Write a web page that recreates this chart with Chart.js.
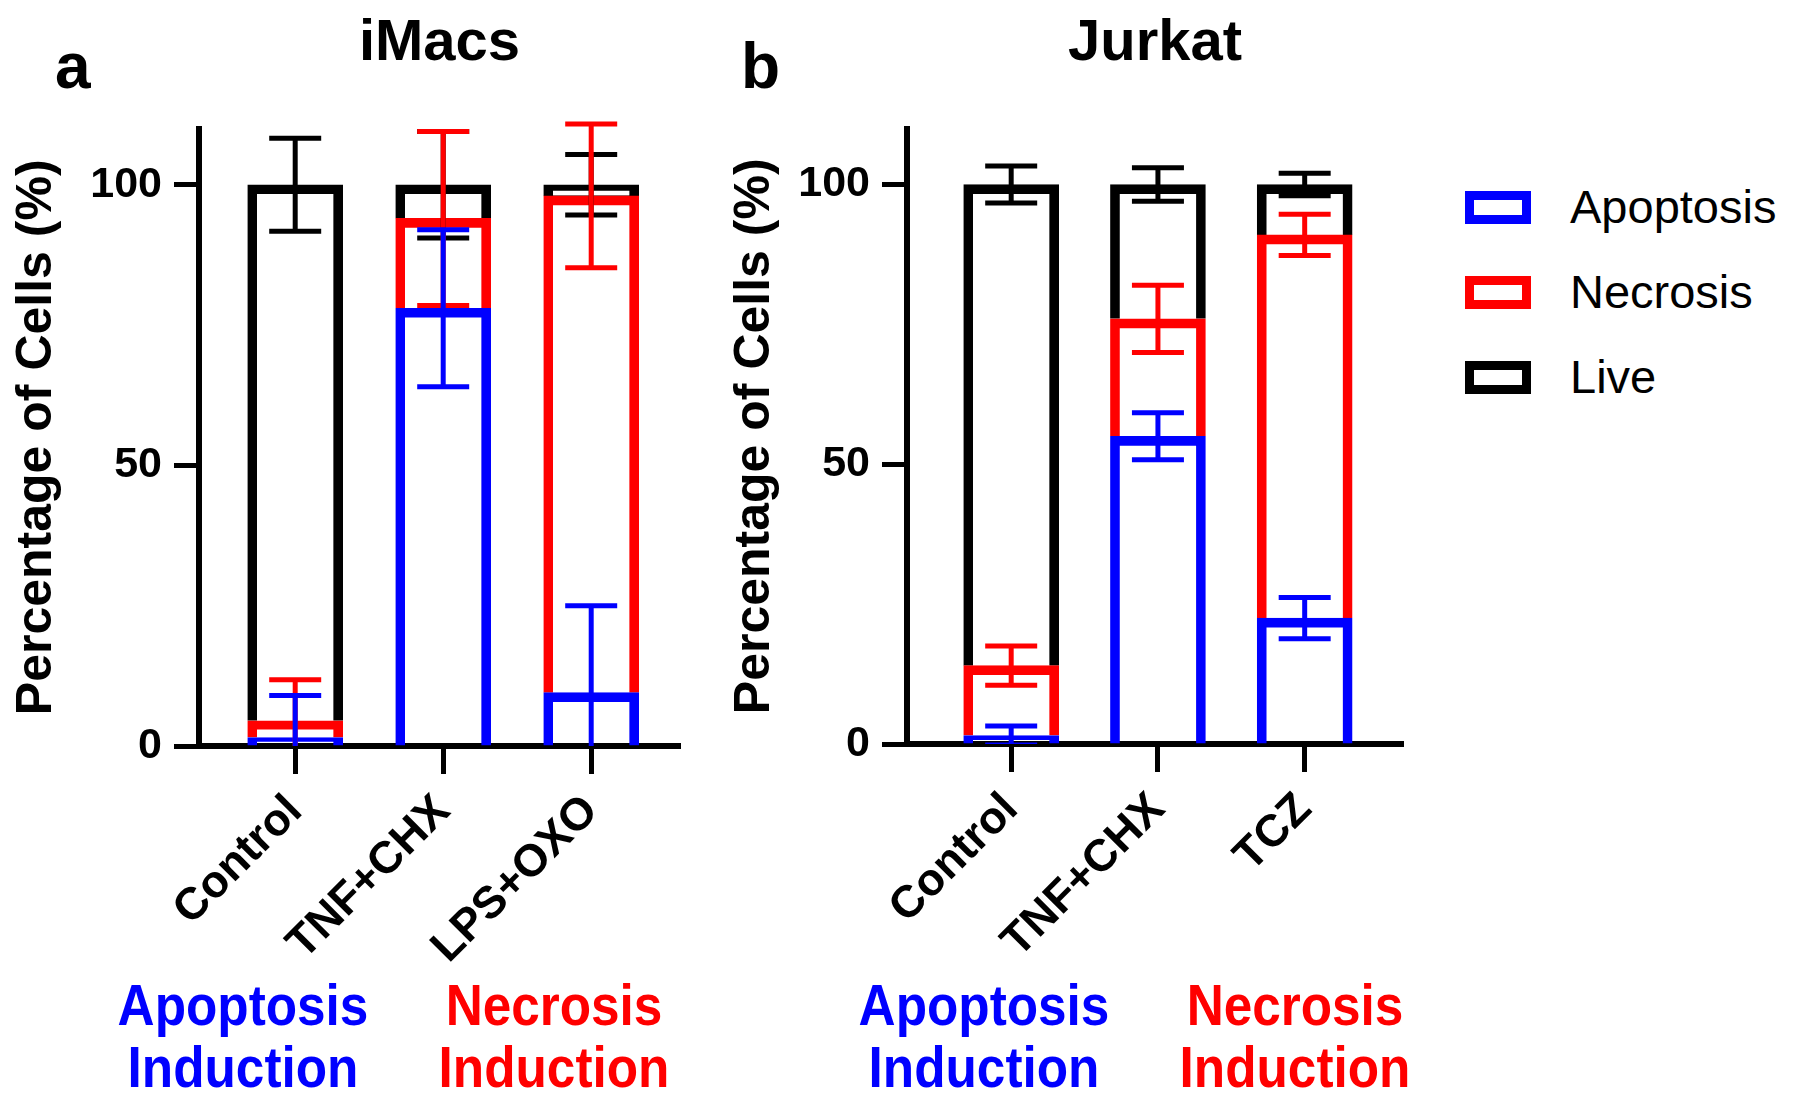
<!DOCTYPE html>
<html>
<head>
<meta charset="utf-8">
<script src="https://cdn.jsdelivr.net/npm/chart.js@4.4.1/dist/chart.umd.min.js"></script>
<style>
  html, body { margin: 0; padding: 0; background: #fff; }
  body {
    width: 1800px; height: 1107px; position: relative; overflow: hidden;
    font-family: 'Liberation Sans', Arial, sans-serif; color: #000;
  }
  canvas { position: absolute; top: 0; }
  #graficoA { left: 0; }
  #graficoB { left: 718px; }
  .letra { position: absolute; top: 34px; font-size: 64px; font-weight: bold; line-height: 1; }
  .induccion {
    position: absolute; top: 974px; width: 320px; margin-left: -160px;
    font-size: 57px; font-weight: bold; line-height: 62px; text-align: center;
    transform: scaleX(0.9);
  }
  .item { position: absolute; left: 1465px; height: 54px; display: flex; align-items: center; }
  .caja { width: 66px; height: 33px; box-sizing: border-box; border: 9px solid; margin-right: 39px; }
  .texto { font-size: 47px; line-height: 54px; }
</style>
</head>
<body>
<canvas id="graficoA" width="700" height="1107"></canvas>
<canvas id="graficoB" width="705" height="1107"></canvas>

<div class="letra" style="left:55px">a</div>
<div class="letra" style="left:741px">b</div>

<div class="induccion" style="left:243px; color:#0000ff">Apoptosis<br>Induction</div>
<div class="induccion" style="left:554px; color:#ff0000">Necrosis<br>Induction</div>
<div class="induccion" style="left:984px; color:#0000ff">Apoptosis<br>Induction</div>
<div class="induccion" style="left:1295px; color:#ff0000">Necrosis<br>Induction</div>

<div id="leyenda"></div>

<script>
// --- DATA ---
const categoriasA = ['Control', 'TNF+CHX', 'LPS+OXO'];
const categoriasB = ['Control', 'TNF+CHX', 'TCZ'];
const series = ['Apoptosis', 'Necrosis', 'Live'];
const yTicks = [0, 50, 100];

// iMacs: stacked segment heights (%) and error (SD)
const apoptosisA = [1.5, 78, 9.5];
const necrosisA = [3, 16, 88.5];
const liveA = [95.5, 6, 2];
const apoptosisErrA = [7.5, 14, 15.5];
const necrosisErrA = [7.3, 15.5, 12.8];
const liveErrA = [8.3, 9.5, 5.4];

// Jurkat
const apoptosisB = [1.5, 55, 22.5];
const necrosisB = [12.5, 21, 68.5];
const liveB = [86, 24, 9];
const apoptosisErrB = [1.7, 4.2, 3.7];
const necrosisErrB = [3.5, 6, 3.7];
const liveErrB = [3.3, 3, 2];

// --- STYLE ---
const colores = ['#0000ff', '#ff0000', '#000000'];
const FUENTE = "'Liberation Sans', Arial, sans-serif";
Chart.defaults.font.family = FUENTE;
Chart.defaults.color = '#000';

// --- ERROR BARS (drawn on top, Live first, Apoptosis last) ---
const barrasError = {
    id: 'barrasError',
    afterDatasetsDraw(chart) {
        const { ctx, chartArea, scales: { x, y } } = chart;
        const sets = chart.data.datasets;
        ctx.save();
        ctx.beginPath();
        ctx.rect(chartArea.left, chartArea.top - 20, chartArea.right - chartArea.left, chartArea.bottom - chartArea.top + 20);
        ctx.clip();
        ctx.lineWidth = 5;
        for (let s = sets.length - 1; s >= 0; s--) {
            ctx.strokeStyle = sets[s].borderColor;
            sets[s].data.forEach((p, i) => {
                let acumulado = 0;
                for (let k = 0; k <= s; k++) acumulado += sets[k].data[i].y;
                const err = sets[s].errores[i];
                const cx = x.getPixelForValue(p.x);
                const yArriba = y.getPixelForValue(acumulado + err);
                const yAbajo = y.getPixelForValue(acumulado - err);
                ctx.beginPath();
                ctx.moveTo(cx, yArriba); ctx.lineTo(cx, yAbajo);
                ctx.moveTo(cx - 26, yArriba); ctx.lineTo(cx + 26, yArriba);
                ctx.moveTo(cx - 26, yAbajo); ctx.lineTo(cx + 26, yAbajo);
                ctx.stroke();
            });
        }
        ctx.restore();
    }
};

function crearPanel(canvasId, titulo, categorias, valores, errores, xMin, xMax, anchoEjeY, fondo) {
    const ctx = document.getElementById(canvasId).getContext('2d');
    return new Chart(ctx, {
        type: 'bar',
        data: {
            datasets: series.map((nombre, s) => ({
                label: nombre,
                data: valores[s].map((v, i) => ({ x: i, y: v })),
                errores: errores[s],
                backgroundColor: 'transparent',
                borderColor: colores[s],
                borderWidth: 9,
                borderSkipped: 'start',
                barThickness: 95
            }))
        },
        options: {
            responsive: false,
            animation: false,
            events: [],
            layout: { padding: { top: 0, right: 20, bottom: 0, left: 0 } },
            plugins: {
                legend: { display: false },
                tooltip: { enabled: false },
                title: {
                    display: true,
                    text: titulo,
                    fullSize: false,
                    color: '#000',
                    font: { size: 58, weight: 'bold', family: FUENTE },
                    padding: { top: 9, bottom: 50 }
                }
            },
            scales: {
                x: {
                    type: 'linear',
                    min: xMin,
                    max: xMax,
                    offset: false,
                    stacked: true,
                    afterBuildTicks: (s) => { s.ticks = categorias.map((c, i) => ({ value: i })); },
                    afterFit: (s) => { s.height = 1107 - fondo; },
                    border: { display: true, color: '#000', width: 6 },
                    grid: { display: true, offset: false, drawOnChartArea: false, drawTicks: true, tickLength: 28, tickWidth: 5, tickColor: '#000', color: '#000' },
                    ticks: {
                        autoSkip: false,
                        minRotation: 45,
                        maxRotation: 45,
                        padding: 11,
                        color: '#000',
                        font: { size: 45, weight: 'bold', family: FUENTE },
                        callback: (v) => categorias[v]
                    }
                },
                y: {
                    min: 0,
                    max: 110,
                    stacked: true,
                    afterBuildTicks: (s) => { s.ticks = yTicks.map(v => ({ value: v })); },
                    afterFit: (s) => { s.width = anchoEjeY; },
                    border: { display: true, color: '#000', width: 6 },
                    grid: { display: true, drawOnChartArea: false, drawTicks: true, tickLength: 25, tickWidth: 5, tickColor: '#000', color: '#000' },
                    ticks: {
                        padding: 12,
                        color: '#000',
                        font: { size: 43, weight: 'bold', family: FUENTE }
                    },
                    title: {
                        display: true,
                        text: 'Percentage of Cells (%)',
                        color: '#000',
                        font: { size: 50, weight: 'bold', family: FUENTE },
                        padding: { top: 7, bottom: 0 }
                    }
                }
            }
        },
        plugins: [barrasError]
    });
}

// --- PANELS ---
crearPanel('graficoA', 'iMacs', categoriasA,
    [apoptosisA, necrosisA, liveA], [apoptosisErrA, necrosisErrA, liveErrA],
    -0.65, 2.6, 199, 746);

crearPanel('graficoB', 'Jurkat', categoriasB,
    [apoptosisB, necrosisB, liveB], [apoptosisErrB, necrosisErrB, liveErrB],
    -0.71, 2.67, 189, 744);

// --- LEGEND ---
const leyenda = document.getElementById('leyenda');
const centrosLeyenda = [207, 292, 377];
series.forEach((nombre, s) => {
    const item = document.createElement('div');
    item.className = 'item';
    item.style.top = (centrosLeyenda[s] - 27) + 'px';
    item.innerHTML = '<span class="caja" style="border-color:' + colores[s] + '"></span><span class="texto">' + nombre + '</span>';
    leyenda.appendChild(item);
});
</script>
</body>
</html>
